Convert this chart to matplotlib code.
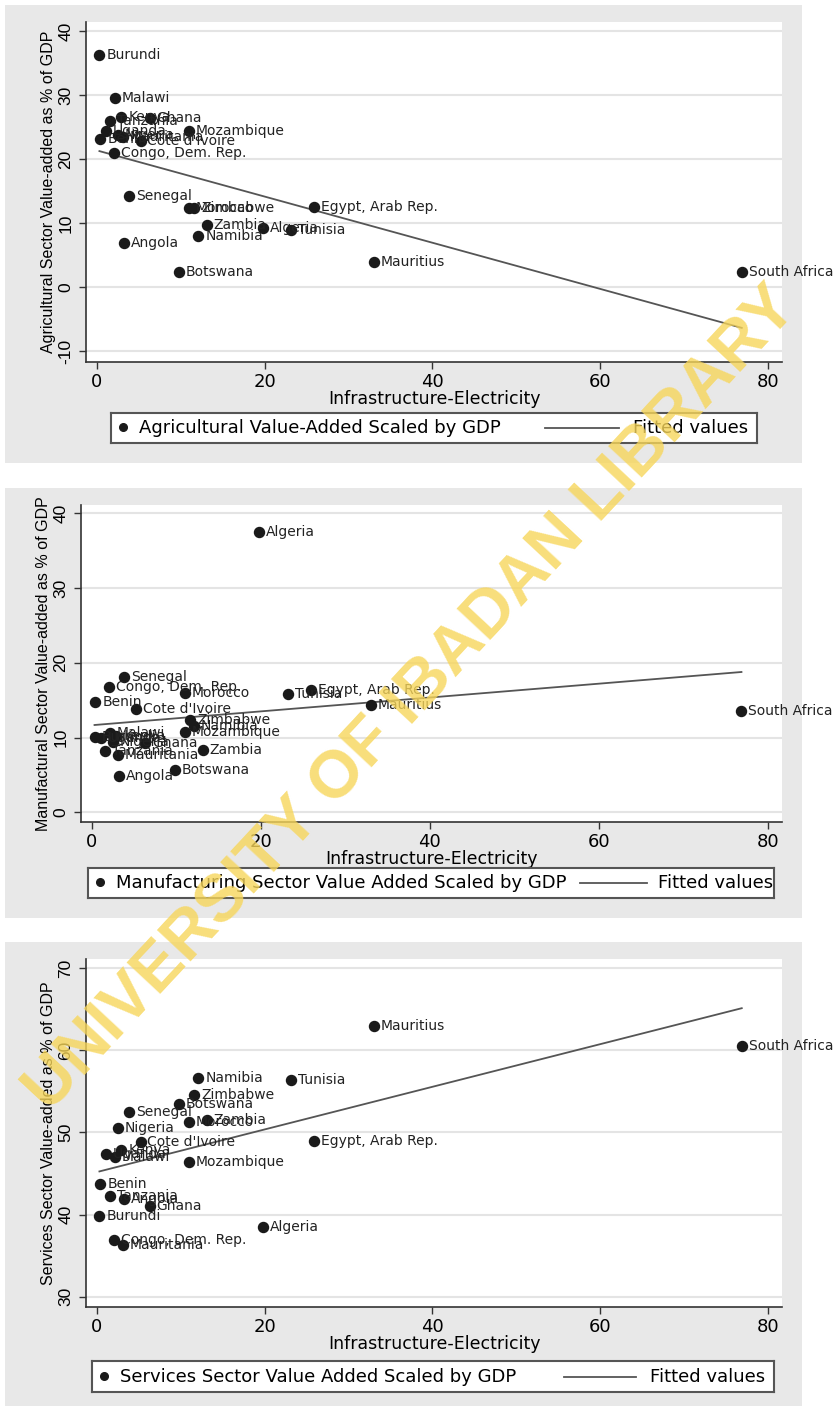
import numpy as np
import matplotlib
matplotlib.use("Agg")
import matplotlib.pyplot as plt
from matplotlib.patches import Rectangle

countries = ["Algeria", "Angola", "Benin", "Botswana", "Burundi",
             "Congo, Dem. Rep.", "Cote d'Ivoire", "Egypt, Arab Rep.", "Ghana",
             "Kenya", "Malawi", "Mauritania", "Mauritius", "Morocco",
             "Mozambique", "Namibia", "Nigeria", "Senegal", "South Africa",
             "Tanzania", "Tunisia", "Uganda", "Zambia", "Zimbabwe"]
electricity = [19.8, 3.2, 0.4, 9.8, 0.3,
               2.0, 5.2, 25.9, 6.3,
               2.9, 2.1, 3.1, 33.0, 11.0,
               11.0, 12.1, 2.5, 3.8, 76.9,
               1.6, 23.2, 1.1, 13.1, 11.6]
agri = [9.3, 6.9, 23.2, 2.3, 36.2,
        21.0, 22.8, 12.5, 26.4,
        26.5, 29.5, 23.5, 3.9, 12.4,
        24.4, 8.0, 23.8, 14.3, 2.4,
        26.0, 8.9, 24.4, 9.7, 12.4]
manu = [37.5, 4.9, 14.8, 5.7, 10.1,
        16.8, 13.8, 16.3, 9.2,
        10.2, 10.6, 7.6, 14.4, 15.9,
        10.7, 11.5, 9.4, 18.1, 13.5,
        8.2, 15.8, 9.9, 8.3, 12.4]
serv = [38.5, 41.9, 43.7, 53.5, 39.8,
        36.9, 48.8, 48.9, 41.1,
        47.9, 47.0, 36.3, 62.9, 51.3,
        46.4, 56.6, 50.5, 52.5, 60.5,
        42.3, 56.4, 47.4, 51.5, 54.6]

W, H = 838, 1406
plt.rcParams['font.family'] = ['DejaVu Sans']
fig = plt.figure(figsize=(W / 100, H / 100), dpi=100)
fig.patch.set_facecolor('white')


def px_axes(l, t, r, b):
    return fig.add_axes([l / W, 1 - b / H, (r - l) / W, (b - t) / H])


def frame(t, b):
    fig.patches.append(Rectangle((5 / W, 1 - b / H), 797 / W, (b - t) / H,
                                 transform=fig.transFigure, facecolor='#e8e8e8',
                                 edgecolor='none', zorder=-10))


def panel(box, ylim, yticks, yvals, ylabel, leg_label, leg_box, leg_pos):
    ax = px_axes(*box)
    ax.set_facecolor('white')
    ax.set_xlim(-1.3, 81.7)
    ax.set_ylim(*ylim)
    for s in ['top', 'right']:
        ax.spines[s].set_visible(False)
    for s in ['left', 'bottom']:
        ax.spines[s].set_color('#333333')
        ax.spines[s].set_linewidth(1.2)
    ax.set_xticks([0, 20, 40, 60, 80])
    ax.set_yticks(yticks, labels=[str(v) for v in yticks], rotation=90,
                  va='center', fontfamily='Liberation Sans', fontsize=12.5)
    ax.tick_params(axis='x', length=5, width=1, pad=3, labelsize=13,
                   color='#333333')
    ax.tick_params(axis='y', length=5, width=1, pad=4, color='#333333')
    ax.grid(axis='y', color='#e4e4e4', lw=1.5)
    ax.set_axisbelow(True)
    ax.set_xlabel("Infrastructure-Electricity", fontsize=12.5, labelpad=-1)
    ax.set_ylabel(ylabel, fontfamily='Liberation Sans', fontsize=11.5,
                  labelpad=2)

    ax.scatter(electricity, yvals, s=52, color='#1a1a1a', zorder=3,
               clip_on=False)
    coef = np.polyfit(electricity, yvals, 1)
    xs = np.array([min(electricity), max(electricity)])
    ax.plot(xs, np.polyval(coef, xs), color='#555555', lw=1.3, zorder=2)
    for name, x, y in zip(countries, electricity, yvals):
        ax.annotate(name, (x, y), xytext=(5, 0), textcoords='offset points',
                    va='center', fontsize=10, color='#222222',
                    annotation_clip=False, zorder=4)

    # legend box
    lw_, lh = leg_box[2] - leg_box[0], leg_box[3] - leg_box[1]
    lax = px_axes(*leg_box)
    lax.set_xlim(0, lw_)
    lax.set_ylim(0, lh)
    lax.set_xticks([])
    lax.set_yticks([])
    for s in lax.spines.values():
        s.set_color('#555555')
        s.set_linewidth(1.5)
    lax.plot([12], [lh / 2 + 1], 'o', ms=5.5, color='#1a1a1a')
    lax.text(leg_pos[0], lh / 2, leg_label, va='center', fontsize=13)
    lax.plot(leg_pos[1:3], [lh / 2, lh / 2], color='#555555', lw=1.3)
    lax.text(leg_pos[3], lh / 2, "Fitted values", va='center', fontsize=13)
    return ax


frame(5, 463)
frame(488, 918)
frame(942, 1406)

panel((86, 22, 782, 362), (-11.7, 41.4), [-10, 0, 10, 20, 30, 40], agri,
      "Agricultural Sector Value-added as % of GDP",
      "Agricultural Value-Added Scaled by GDP",
      (111, 413, 757, 443), (28, 434, 508, 522))

panel((81, 505, 782, 822), (-1.3, 41.1), [0, 10, 20, 30, 40], manu,
      "Manufactural Sector Value-added as % of GDP",
      "Manufacturing Sector Value Added Scaled by GDP",
      (88, 868, 774, 898), (28, 492, 559, 570))

panel((86, 959, 782, 1307), (28.75, 71.1), [30, 40, 50, 60, 70], serv,
      "Services Sector Value-added as % of GDP",
      "Services Sector Value Added Scaled by GDP",
      (92, 1361, 774, 1392), (28, 472, 544, 558))

fig.text(412 / W, 1 - 700 / H, "UNIVERSITY OF IBADAN LIBRARY", rotation=47,
         ha='center', va='center', fontsize=48, fontweight='bold',
         fontfamily='Liberation Sans', color='#f7d65a', alpha=0.8, zorder=10)

fig.savefig("out.png", dpi=100)
